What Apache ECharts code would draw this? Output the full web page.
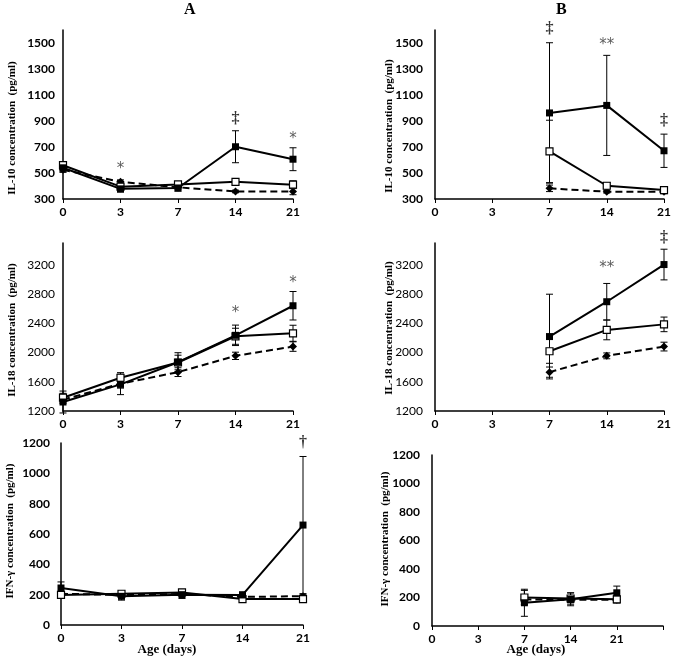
<!DOCTYPE html>
<html><head><meta charset="utf-8">
<script src="https://cdn.jsdelivr.net/npm/echarts@6/dist/echarts.min.js"></script>
<style>html,body{margin:0;padding:0;background:#fff}#c{width:675px;height:663px}</style>
</head><body><div id="c"></div>
<script>
// ---------- data ----------
const daysA = ['0','3','7','14','21'];
const daysB = ['0','3','7','14','21'];
const daysBifn = ['0','3','7','14','21',''];

// IL-10 (pg/ml) panel A
const il10A_filled = [540, 378, 385, 702, 606];
const il10A_filledErr = [30, 25, 25, 123, 88];
const il10A_open = [560, 395, 412, 432, 410];
const il10A_openErr = [25, 20, 15, 15, 30];
const il10A_dashed = [525, 432, 390, 358, 358];
const il10A_dashedErr = [20, 15, 15, 10, 25];
// IL-10 panel B
const il10B_filled = [null, null, 962, 1020, 671];
const il10B_filledErr = [null, null, 540, 385, 128];
const il10B_open = [null, null, 666, 402, 369];
const il10B_openErr = [null, null, 240, 25, 15];
const il10B_dashed = [null, null, 382, 356, 356];
const il10B_dashedErr = [null, null, 25, 10, 15];
// IL-18 panel A
const il18A_filled = [1323, 1564, 1868, 2236, 2641];
const il18A_filledErr = [150, 140, 130, 140, 195];
const il18A_open = [1382, 1655, 1864, 2223, 2264];
const il18A_openErr = [60, 70, 100, 110, 110];
const il18A_dashed = [1355, 1573, 1732, 1955, 2082];
const il18A_dashedErr = [50, 60, 60, 50, 65];
// IL-18 panel B
const il18B_filled = [null, null, 2219, 2696, 3205];
const il18B_filledErr = [null, null, 580, 250, 210];
const il18B_open = [null, null, 2018, 2310, 2386];
const il18B_openErr = [null, null, 165, 135, 100];
const il18B_dashed = [null, null, 1732, 1955, 2082];
const il18B_dashedErr = [null, null, 70, 40, 60];
// IFN-γ panel A
const ifnA_filled = [244, 189, 200, 198, 659];
const ifnA_filledErr = [40, 25, 25, 20, 452];
const ifnA_open = [198, 206, 215, 171, 171];
const ifnA_openErr = [10, 15, 15, 10, 10];
const ifnA_dashed = [206, 198, 204, 185, 190];
const ifnA_dashedErr = [10, 15, 10, 10, 10];
// IFN-γ panel B
const ifnB_filled = [null, null, 163, 187, 233, null];
const ifnB_filledErr = [null, null, 95, 45, 47, null];
const ifnB_open = [null, null, 200, 193, 187, null];
const ifnB_openErr = [null, null, 50, 40, 25, null];
const ifnB_dashed = [null, null, 187, 184, 184, null];
const ifnB_dashedErr = [null, null, 20, 20, 20, null];

// significance marks: [category index, value position, text]
const marks_il10A = [[1, 530, '*'], [3, 917, '‡'], [4, 760, '*']];
const marks_il10B = [[2, 1612, '‡'], [3, 1485, '**'], [4, 901, '‡']];
const marks_il18A = [[3, 2540, '*'], [4, 2945, '*']];
const marks_il18B = [[3, 3150, '**'], [4, 3573, '‡']];
const marks_ifnA = [[4, 1200, '†']];
const marks_ifnB = [];

// axis ranges
const yIL10 = {min: 300, max: 1600, interval: 200};
const yIL18 = {min: 1200, max: 3500, interval: 400};
const yIFN = {min: 0, max: 1200, interval: 200};

const yTitles = ['IL-10 concentration  (pg/ml)', 'IL-18 concentration  (pg/ml)', 'IFN-γ concentration  (pg/ml)'];

// ---------- layout ----------
const grids = [
  {left: 63, top: 30, width: 230, height: 169},
  {left: 435, top: 30, width: 229, height: 169},
  {left: 63, top: 243, width: 230, height: 168},
  {left: 435, top: 243, width: 229, height: 168},
  {left: 61, top: 443, width: 242, height: 182},
  {left: 432, top: 455, width: 231, height: 171}
];
const panels = [
  {cats: daysA, y: yIL10, boldY: true, f: il10A_filled, fe: il10A_filledErr, o: il10A_open, oe: il10A_openErr, d: il10A_dashed, de: il10A_dashedErr, m: marks_il10A},
  {cats: daysB, y: yIL10, boldY: true, f: il10B_filled, fe: il10B_filledErr, o: il10B_open, oe: il10B_openErr, d: il10B_dashed, de: il10B_dashedErr, m: marks_il10B},
  {cats: daysA, y: yIL18, boldY: false, f: il18A_filled, fe: il18A_filledErr, o: il18A_open, oe: il18A_openErr, d: il18A_dashed, de: il18A_dashedErr, m: marks_il18A},
  {cats: daysB, y: yIL18, boldY: false, f: il18B_filled, fe: il18B_filledErr, o: il18B_open, oe: il18B_openErr, d: il18B_dashed, de: il18B_dashedErr, m: marks_il18B},
  {cats: daysA, y: yIFN, boldY: true, f: ifnA_filled, fe: ifnA_filledErr, o: ifnA_open, oe: ifnA_openErr, d: ifnA_dashed, de: ifnA_dashedErr, m: marks_ifnA},
  {cats: daysBifn, y: yIFN, boldY: true, f: ifnB_filled, fe: ifnB_filledErr, o: ifnB_open, oe: ifnB_openErr, d: ifnB_dashed, de: ifnB_dashedErr, m: marks_ifnB}
];
const labelMargins = [8, 12, 8, 12, 11, 12];

const xAxis = [], yAxis = [], series = [];
function errData(vals, errs) {
  const out = [];
  vals.forEach((v, i) => { if (v != null && errs[i] != null) out.push([i, v - errs[i], v + errs[i]]); });
  return out;
}
function errRender(params, api) {
  const x = api.value(0), lo = api.value(1), hi = api.value(2);
  const pTop = api.coord([x, hi]), pBot = api.coord([x, lo]);
  const w = 3.5, st = {stroke: '#000', lineWidth: 1};
  return {type: 'group', children: [
    {type: 'line', shape: {x1: pTop[0], y1: pTop[1], x2: pBot[0], y2: pBot[1]}, style: st},
    {type: 'line', shape: {x1: pTop[0] - w, y1: pTop[1], x2: pTop[0] + w, y2: pTop[1]}, style: st},
    {type: 'line', shape: {x1: pBot[0] - w, y1: pBot[1], x2: pBot[0] + w, y2: pBot[1]}, style: st}
  ]};
}
panels.forEach((p, i) => {
  const yMax = p.y.max, yMin = p.y.min, yInt = p.y.interval;
  xAxis.push({type: 'category', gridIndex: i, data: p.cats, boundaryGap: false,
    axisLine: {show: true, lineStyle: {color: '#000', width: 1.5}},
    axisTick: {show: true, inside: false, length: 4, alignWithLabel: true, lineStyle: {color: '#000', width: 1}},
    axisLabel: {color: '#000', fontFamily: 'Lato', fontWeight: 'bold', fontSize: 12, margin: 7, interval: 0},
    splitLine: {show: false}});
  yAxis.push({type: 'value', gridIndex: i, min: yMin, max: yMax, interval: yInt,
    axisLine: {show: true, lineStyle: {color: '#000', width: 1.5}},
    axisTick: {show: false}, splitLine: {show: false},
    axisLabel: {color: '#000', fontFamily: 'Lato', fontWeight: p.boldY ? 'bold' : 'normal', fontSize: 12,
      margin: labelMargins[i],
      formatter: v => ((v - yMin) % yInt === 0 ? String(v) : '')}});
  [[p.f, p.fe], [p.o, p.oe], [p.d, p.de]].forEach(([v, e]) => {
    series.push({type: 'custom', xAxisIndex: i, yAxisIndex: i, renderItem: errRender,
      data: errData(v, e), encode: {x: 0, y: [1, 2]}, z: 1, silent: true});
  });
  series.push({type: 'line', xAxisIndex: i, yAxisIndex: i, data: p.d, symbol: 'diamond', symbolSize: 8,
    itemStyle: {color: '#000'}, lineStyle: {color: '#000', width: 2, type: [7, 4]}, z: 2});
  series.push({type: 'line', xAxisIndex: i, yAxisIndex: i, data: p.o, symbol: 'rect', symbolSize: 7,
    itemStyle: {color: '#fff', borderColor: '#000', borderWidth: 1.2}, lineStyle: {color: '#000', width: 2}, z: 3});
  series.push({type: 'line', xAxisIndex: i, yAxisIndex: i, data: p.f, symbol: 'rect', symbolSize: 7,
    itemStyle: {color: '#000'}, lineStyle: {color: '#000', width: 2}, z: 4});
  series.push({type: 'scatter', xAxisIndex: i, yAxisIndex: i, symbol: 'circle', symbolSize: 2, clip: false, silent: true, z: 5,
    itemStyle: {color: 'rgba(0,0,0,0)'},
    data: p.m.map(m => ({value: [m[0], m[1]], label: {show: true, position: 'inside', formatter: m[2],
      fontFamily: m[2].indexOf('*') >= 0 ? 'DejaVu Sans' : 'Liberation Serif',
      fontSize: m[2].indexOf('*') >= 0 ? 15 : 16, fontWeight: m[2].indexOf('*') >= 0 ? 'normal' : 'bold',
      color: m[2].indexOf('*') >= 0 ? '#333' : '#000'}}))});
});

const graphic = [
  {type: 'text', left: 184, top: 2, style: {text: 'A', font: 'bold 16px "Liberation Serif"', fill: '#000'}},
  {type: 'text', left: 556, top: 2, style: {text: 'B', font: 'bold 16px "Liberation Serif"', fill: '#000'}},
  {type: 'text', x: 167, y: 650, style: {text: 'Age (days)', font: 'bold 13px "Liberation Serif"', fill: '#000', align: 'center', verticalAlign: 'middle'}},
  {type: 'text', x: 536, y: 650, style: {text: 'Age (days)', font: 'bold 13px "Liberation Serif"', fill: '#000', align: 'center', verticalAlign: 'middle'}}
];
const yTitlePos = [[12, 128, 0], [389, 126, 0], [12, 330, 1], [389, 328, 1], [10, 531, 2], [385, 539, 2]];
yTitlePos.forEach(([x, y, k]) => {
  graphic.push({type: 'text', x: x, y: y, rotation: Math.PI / 2,
    style: {text: yTitles[k], font: 'bold 11px "Liberation Serif"', fill: '#000', align: 'center', verticalAlign: 'middle'}});
});

const chart = echarts.init(document.getElementById('c'), null, {renderer: 'canvas'});
chart.setOption({animation: false, backgroundColor: '#fff', grid: grids, xAxis, yAxis, series, graphic});
</script></body></html>
